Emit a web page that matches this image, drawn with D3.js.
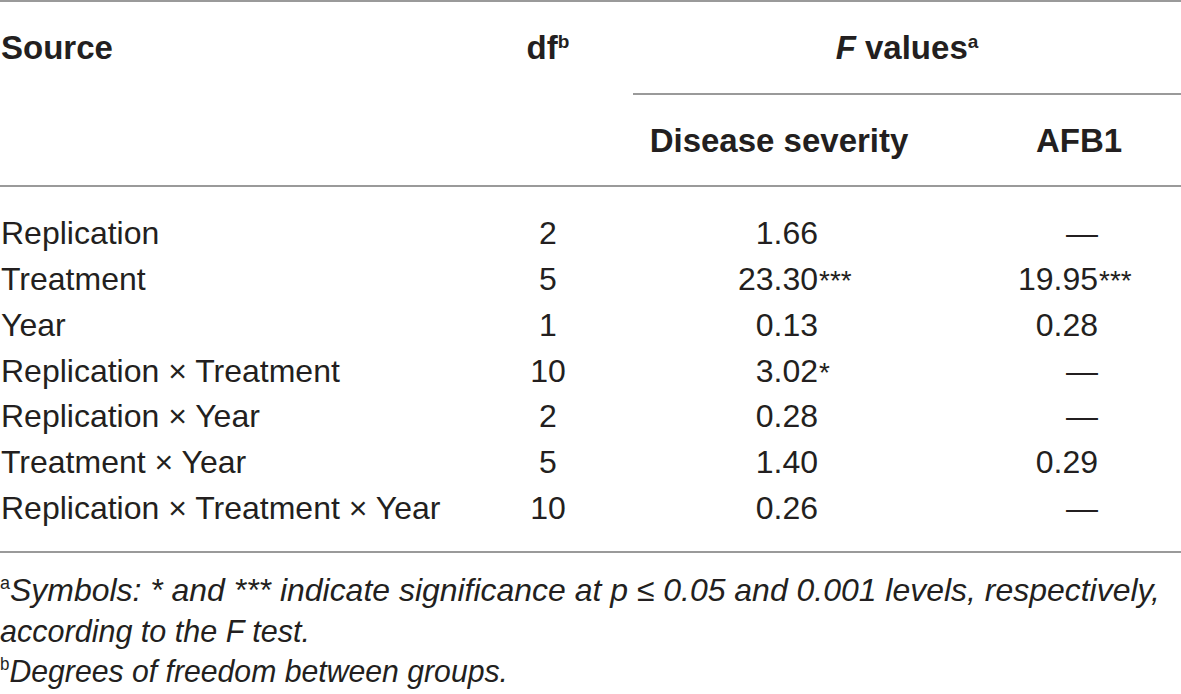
<!DOCTYPE html>
<html>
<head>
<meta charset="utf-8">
<script src="https://cdn.jsdelivr.net/npm/d3@7"></script>
<style>
    body { margin: 0; background: #fff; }
    svg { display: block; }
    text { font-family: "Liberation Sans", Arial, sans-serif; fill: #231f20; }
</style>
</head>
<body>
<svg id="chart" width="1181" height="694"></svg>
<script>
const sources = [
    "Replication",
    "Treatment",
    "Year",
    "Replication × Treatment",
    "Replication × Year",
    "Treatment × Year",
    "Replication × Treatment × Year",
]
const dfValues = [2, 5, 1, 10, 2, 5, 10]
const severityF = [1.66, 23.30, 0.13, 3.02, 0.28, 1.40, 0.26]
const severitySig = ["", "***", "", "*", "", "", ""]
const afb1F = [null, 19.95, 0.28, null, null, 0.29, null]
const afb1Sig = ["", "***", "", "", "", "", ""]
const footnotes = [
    {sup: "a", text: "Symbols: * and *** indicate significance at p ≤ 0.05 and 0.001 levels, respectively,"},
    {sup: "", text: "according to the F test."},
    {sup: "b", text: "Degrees of freedom between groups."},
]

const width = 1181
const ruleColor = "#9a9a9a"
const bodySize = 32
const headSize = 33

const svg = d3.select("#chart")

const y = d3.scalePoint()
    .domain(sources)
    .range([244, 519])

const noteY = d3.scalePoint()
    .domain(d3.range(footnotes.length))
    .range([601, 682])

const col = {source: 1, df: 548, severity: 818, afb1: 1098, fHeader: 907, sevHeader: 779, afbHeader: 1079}
const fmt = d3.format(".2f")

// rules
const rules = [
    {x1: 0, x2: width, y: 1},
    {x1: 633, x2: width, y: 94},
    {x1: 0, x2: width, y: 186},
    {x1: 0, x2: width, y: 552},
]
svg.append("g")
    .selectAll("line")
    .data(rules)
    .join("line")
    .attr("x1", d => d.x1)
    .attr("x2", d => d.x2)
    .attr("y1", d => d.y)
    .attr("y2", d => d.y)
    .attr("stroke", ruleColor)
    .attr("stroke-width", 2)

// header
const head = svg.append("g")
    .attr("font-weight", "bold")
    .attr("font-size", headSize)

head.append("text")
    .attr("x", col.source)
    .attr("y", 59)
    .text("Source")

const dfHead = head.append("text")
    .attr("x", col.df)
    .attr("y", 59)
    .attr("text-anchor", "middle")
dfHead.append("tspan").text("df")
dfHead.append("tspan").attr("font-size", 19).attr("dy", -11).text("b")

const fHead = head.append("text")
    .attr("x", col.fHeader)
    .attr("y", 59)
    .attr("text-anchor", "middle")
fHead.append("tspan").attr("font-style", "italic").text("F")
fHead.append("tspan").text(" values")
fHead.append("tspan").attr("font-size", 19).attr("dy", -11).text("a")

head.append("text")
    .attr("x", col.sevHeader)
    .attr("y", 152)
    .attr("text-anchor", "middle")
    .text("Disease severity")

head.append("text")
    .attr("x", col.afbHeader)
    .attr("y", 152)
    .attr("text-anchor", "middle")
    .text("AFB1")

// body
const rows = sources.map((s, i) => ({
    source: s,
    df: dfValues[i],
    sev: severityF[i],
    sevSig: severitySig[i],
    afb: afb1F[i],
    afbSig: afb1Sig[i],
}))

const body = svg.append("g")
    .attr("font-size", bodySize)

const row = body.selectAll("g")
    .data(rows)
    .join("g")
    .attr("transform", d => `translate(0,${y(d.source)})`)

row.append("text")
    .attr("x", col.source)
    .text(d => d.source)

row.append("text")
    .attr("x", col.df)
    .attr("text-anchor", "middle")
    .text(d => d.df)

row.append("text")
    .attr("x", col.severity)
    .attr("text-anchor", "end")
    .text(d => fmt(d.sev))

row.append("text")
    .attr("x", col.severity + 1)
    .attr("font-size", 28)
    .text(d => d.sevSig)

row.append("text")
    .attr("x", col.afb1)
    .attr("text-anchor", "end")
    .text(d => d.afb === null ? "—" : fmt(d.afb))

row.append("text")
    .attr("x", col.afb1 + 1)
    .attr("font-size", 28)
    .text(d => d.afbSig)

// footnotes, squeezed to the narrow face of the original
const noteWidths = [1160, 310, 508]

const notes = svg.append("g")
    .attr("font-size", 32)
    .attr("font-style", "italic")

const note = notes.selectAll("text")
    .data(footnotes)
    .join("text")
    .attr("x", 0)
    .attr("y", (d, i) => noteY(i))
    .attr("textLength", (d, i) => noteWidths[i])
    .attr("lengthAdjust", "spacingAndGlyphs")

note.append("tspan")
    .attr("font-size", 18)
    .attr("font-style", "normal")
    .attr("dy", -12)
    .text(d => d.sup)

note.append("tspan")
    .attr("dy", d => d.sup ? 12 : 0)
    .text(d => d.text)
</script>
</body>
</html>
